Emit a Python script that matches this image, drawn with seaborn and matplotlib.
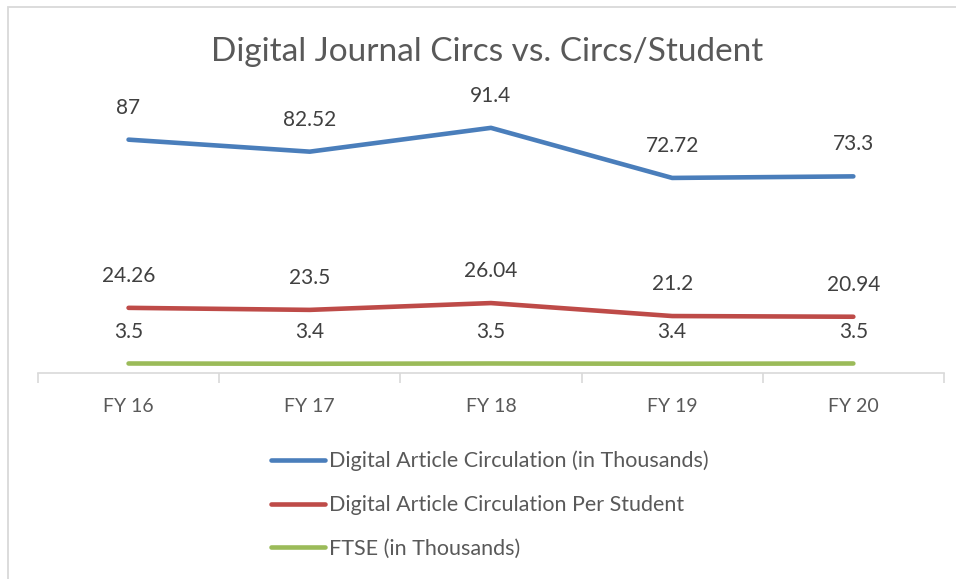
import pandas as pd
import seaborn as sns
import matplotlib.pyplot as plt
from matplotlib.lines import Line2D
from matplotlib.patches import Rectangle

years = ['FY 16', 'FY 17', 'FY 18', 'FY 19', 'FY 20']
circ_thousands = [87, 82.52, 91.4, 72.72, 73.3]
circ_per_student = [24.26, 23.5, 26.04, 21.2, 20.94]
ftse_thousands = [3.5, 3.4, 3.5, 3.4, 3.5]

series_names = ['Digital Article Circulation (in Thousands)',
                'Digital Article Circulation Per Student',
                'FTSE (in Thousands)']
colors = ['#4A7EBB', '#BE4B48', '#9BBB59']

df = pd.DataFrame({
    'year': years * 3,
    'value': circ_thousands + circ_per_student + ftse_thousands,
    'series': [s for s in series_names for _ in years],
})

sns.set_theme(style='white')
plt.rcParams['font.family'] = ['Lato', 'DejaVu Sans']

fig = plt.figure(figsize=(9.56, 5.79), dpi=100)
ax = fig.add_axes([0.0397, 0.356, 0.9477, 0.463])

sns.lineplot(data=df, x='year', y='value', hue='series', palette=colors,
             linewidth=3.3, sort=False, legend=False, ax=ax,
             solid_capstyle='round')

for vals, col in zip([circ_thousands, circ_per_student, ftse_thousands], colors):
    for i, v in enumerate(vals):
        ax.annotate(f'{v:g}', (i, v), xytext=(0, 23), textcoords='offset points',
                    ha='center', va='center', fontsize=15, color='#404040')

ax.set_xlim(-0.5, 4.5)
ax.set_ylim(0, 100)
ax.set_xlabel('')
ax.set_ylabel('')
ax.set_yticks([])
for s in ['top', 'right', 'left']:
    ax.spines[s].set_visible(False)
ax.spines['bottom'].set_color('#D9D9D9')
ax.spines['bottom'].set_linewidth(1.2)
ax.set_xticks([0, 1, 2, 3, 4], years)
ax.set_xticks([-0.5, 0.5, 1.5, 2.5, 3.5, 4.5], minor=True)
ax.tick_params(axis='x', which='major', length=0, pad=18, labelsize=14, labelcolor='#595959')
ax.tick_params(axis='x', which='minor', length=7, width=1.2, color='#D9D9D9', direction='out', bottom=True)

fig.text(0.51, 0.91, 'Digital Journal Circs vs. Circs/Student', ha='center', va='center',
         fontsize=24, color='#595959')

handles = [Line2D([0], [0], color=c, lw=3.3, solid_capstyle='round') for c in colors]
fig.legend(handles, series_names, loc='upper left', bbox_to_anchor=(0.272, 0.24),
           frameon=False, fontsize=15.5, labelcolor='#595959', handlelength=2.5,
           handletextpad=0.2, labelspacing=1.1, borderpad=0)

# chart border (left and top edges visible)
fig.patches.append(Rectangle((8 / 956, -0.1), 1.2, 1.1 - 7 / 579, transform=fig.transFigure,
                             fill=False, edgecolor='#D9D9D9', linewidth=1.3))

fig.savefig('out.png', dpi=100)
